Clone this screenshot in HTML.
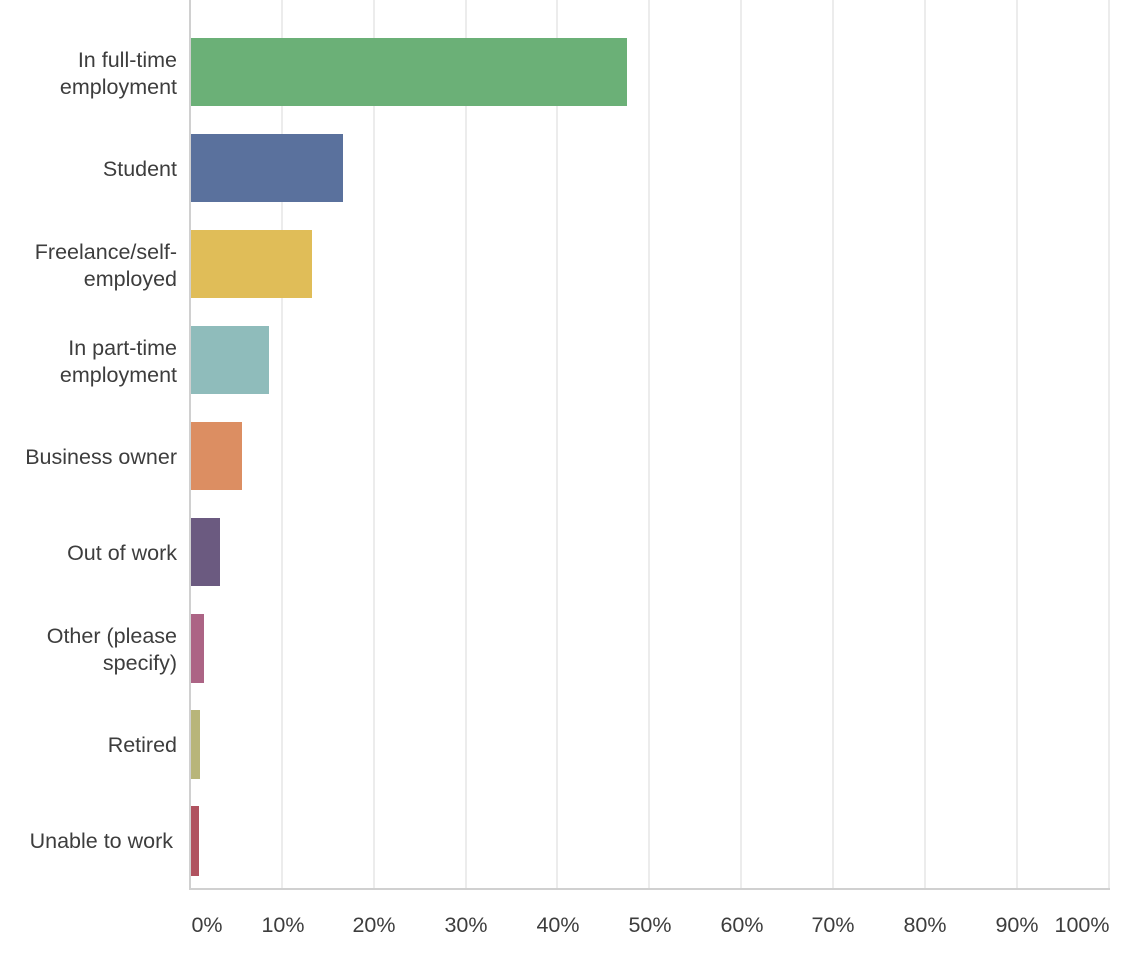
<!DOCTYPE html>
<html><head><style>
body{margin:0;background:#fff;}
svg text{font-family:"Liberation Sans",sans-serif;fill:#3d3d3d;font-size:21.5px;}
</style></head><body>
<svg width="1144" height="966" xmlns="http://www.w3.org/2000/svg">
<g stroke="#e6e6e6" stroke-width="1.5">
<line x1="282" y1="0" x2="282" y2="889"/><line x1="374" y1="0" x2="374" y2="889"/>
<line x1="466" y1="0" x2="466" y2="889"/><line x1="557" y1="0" x2="557" y2="889"/>
<line x1="649" y1="0" x2="649" y2="889"/><line x1="741" y1="0" x2="741" y2="889"/>
<line x1="833" y1="0" x2="833" y2="889"/><line x1="925" y1="0" x2="925" y2="889"/>
<line x1="1017" y1="0" x2="1017" y2="889"/><line x1="1109" y1="0" x2="1109" y2="889"/>
</g>
<g stroke="#d0d0d0" stroke-width="2">
<line x1="190" y1="0" x2="190" y2="890"/><line x1="189" y1="889" x2="1110" y2="889"/>
</g>
<rect x="191" y="38" width="436" height="68" fill="#6bb077"/>
<rect x="191" y="134" width="152" height="68" fill="#5a719d"/>
<rect x="191" y="230" width="121" height="68" fill="#e0bd58"/>
<rect x="191" y="326" width="78" height="68" fill="#8fbcbb"/>
<rect x="191" y="422" width="51" height="68" fill="#dc8e62"/>
<rect x="191" y="518" width="29" height="68" fill="#6b5a80"/>
<rect x="191" y="614" width="13" height="69" fill="#ac6485"/>
<rect x="191" y="710" width="9" height="69" fill="#b8b57a"/>
<rect x="191" y="806" width="8" height="70" fill="#b0525f"/>
<g text-anchor="end">
<text x="177" y="67">In full-time</text><text x="177" y="94">employment</text>
<text x="177" y="176">Student</text>
<text x="177" y="259">Freelance/self-</text><text x="177" y="286">employed</text>
<text x="177" y="355">In part-time</text><text x="177" y="382">employment</text>
<text x="177" y="464">Business owner</text>
<text x="177" y="560">Out of work</text>
<text x="177" y="643">Other (please</text><text x="177" y="670">specify)</text>
<text x="177" y="752">Retired</text>
<text x="173" y="848">Unable to work</text>
</g>
<g text-anchor="middle">
<text x="207" y="932">0%</text><text x="283" y="932">10%</text><text x="374" y="932">20%</text>
<text x="466" y="932">30%</text><text x="558" y="932">40%</text><text x="650" y="932">50%</text>
<text x="742" y="932">60%</text><text x="833" y="932">70%</text><text x="925" y="932">80%</text>
<text x="1017" y="932">90%</text><text x="1082" y="932">100%</text>
</g>
</svg>
</body></html>
